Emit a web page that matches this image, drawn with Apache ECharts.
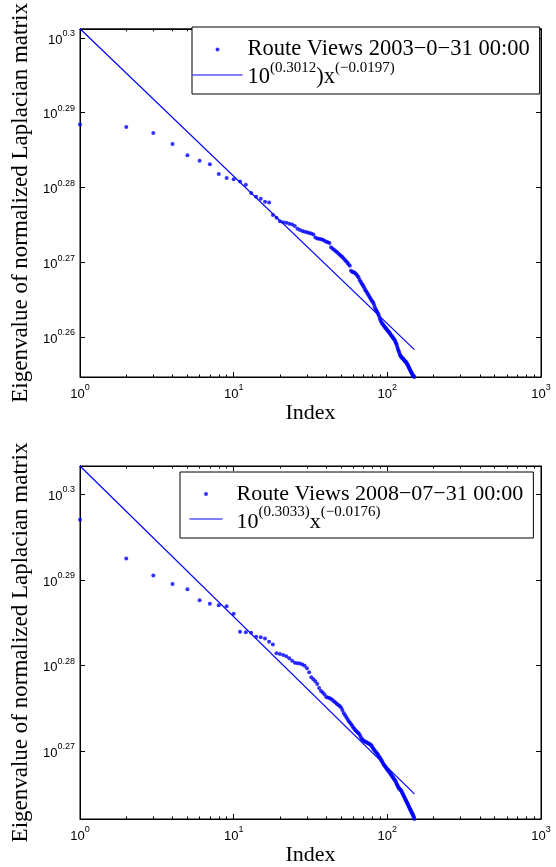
<!DOCTYPE html>
<html>
<head>
<meta charset="utf-8">
<script src="https://cdn.jsdelivr.net/npm/echarts@6/dist/echarts.min.js"></script>
<style>html,body{margin:0;padding:0;background:#fff}#c{width:556px;height:867px}</style>
</head>
<body>
<div id="c"></div>
<script>
// ---------------- data ----------------
const yAxisTitle = 'Eigenvalue of normalized Laplacian matrix';
const xAxisTitle = 'Index';
const topSeriesName = 'Route Views 2003−0−31 00:00';
const bottomSeriesName = 'Route Views 2008−07−31 00:00';
// power-law fits: log10(intercept), exponent
const topFit = [0.3012, -0.0197];
const bottomFit = [0.3033, -0.0176];
const topFitName = 'fit 2003';
const bottomFitName = 'fit 2008';
// legend texts of the fits (rich text: b = base, s = superscript)
const topFitLabel = '{b|10}{s|(0.3012}{b|)x}{s|(−0.0197)}';
const bottomFitLabel = '{b|10}{s|(0.3033)}{b|x}{s|(−0.0176)}';

const xMajorTicks = [1, 10, 100, 1000];
const xMajorTickLabels = ['0', '1', '2', '3'];
const xMinorTicks = [2, 3, 4, 5, 6, 7, 8, 9, 20, 30, 40, 50, 60, 70, 80, 90, 200, 300, 400, 500, 600, 700, 800, 900];
const yTickExponentsTop = [0.26, 0.27, 0.28, 0.29, 0.3];
const yTickLabelsTop = ['0.26', '0.27', '0.28', '0.29', '0.3'];
const yTickExponentsBottom = [0.27, 0.28, 0.29, 0.3];
const yTickLabelsBottom = ['0.27', '0.28', '0.29', '0.3'];

// log10 of the eigenvalue, for index 1, 2, 3, ...
const eigLog10Top = [
  0.28840, 0.28808, 0.28726, 0.28579, 0.28430, 0.28357, 0.28309, 0.28179, 0.28126, 0.28110,
  0.28078, 0.28035, 0.27927, 0.27875, 0.27849, 0.27810, 0.27797, 0.27631, 0.27596, 0.27549,
  0.27536, 0.27527, 0.27514, 0.27505, 0.27484, 0.27449, 0.27432, 0.27419, 0.27409, 0.27400,
  0.27392, 0.27383, 0.27370, 0.27331, 0.27318, 0.27314, 0.27309, 0.27301, 0.27288, 0.27275,
  0.27266, 0.27257, 0.27201, 0.27181, 0.27168, 0.27151, 0.27136, 0.27116, 0.27099, 0.27083,
  0.27070, 0.27051, 0.27031, 0.27012, 0.26992, 0.26973, 0.26953, 0.26888, 0.26875, 0.26868,
  0.26862, 0.26849, 0.26836, 0.26816, 0.26797, 0.26764, 0.26744, 0.26718, 0.26699, 0.26679,
  0.26653, 0.26627, 0.26608, 0.26588, 0.26568, 0.26549, 0.26529, 0.26510, 0.26490, 0.26477,
  0.26458, 0.26432, 0.26399, 0.26373, 0.26353, 0.26334, 0.26314, 0.26288, 0.26256, 0.26229,
  0.26210, 0.26190, 0.26177, 0.26164, 0.26151, 0.26138, 0.26125, 0.26119, 0.26106, 0.26093,
  0.26082, 0.26073, 0.26060, 0.26047, 0.26034, 0.26021, 0.26014, 0.26001, 0.25988, 0.25982,
  0.25969, 0.25956, 0.25936, 0.25917, 0.25897, 0.25871, 0.25845, 0.25825, 0.25806, 0.25780,
  0.25760, 0.25747, 0.25737, 0.25728, 0.25721, 0.25714, 0.25708, 0.25701, 0.25688, 0.25682,
  0.25675, 0.25669, 0.25662, 0.25649, 0.25636, 0.25623, 0.25610, 0.25597, 0.25584, 0.25571,
  0.25558, 0.25545, 0.25532, 0.25519, 0.25506, 0.25493, 0.25486, 0.25480, 0.25473, 0.25467
];
const eigLog10Bottom = [
  0.29702, 0.29249, 0.29051, 0.28951, 0.28889, 0.28761, 0.28722, 0.28703, 0.28691, 0.28603,
  0.28394, 0.28388, 0.28382, 0.28336, 0.28330, 0.28316, 0.28278, 0.28246, 0.28142, 0.28134,
  0.28122, 0.28107, 0.28084, 0.28055, 0.28031, 0.28026, 0.28022, 0.28010, 0.27997, 0.27967,
  0.27921, 0.27863, 0.27840, 0.27816, 0.27782, 0.27735, 0.27700, 0.27683, 0.27660, 0.27631,
  0.27625, 0.27619, 0.27607, 0.27596, 0.27578, 0.27567, 0.27549, 0.27538, 0.27526, 0.27509,
  0.27480, 0.27445, 0.27422, 0.27398, 0.27375, 0.27352, 0.27334, 0.27317, 0.27294, 0.27276,
  0.27259, 0.27242, 0.27230, 0.27218, 0.27207, 0.27189, 0.27166, 0.27143, 0.27131, 0.27120,
  0.27114, 0.27108, 0.27102, 0.27096, 0.27091, 0.27085, 0.27079, 0.27073, 0.27062, 0.27044,
  0.27027, 0.27015, 0.27003, 0.26992, 0.26980, 0.26969, 0.26957, 0.26940, 0.26928, 0.26916,
  0.26899, 0.26887, 0.26870, 0.26852, 0.26841, 0.26829, 0.26818, 0.26806, 0.26794, 0.26783,
  0.26777, 0.26765, 0.26754, 0.26742, 0.26731, 0.26719, 0.26713, 0.26701, 0.26690, 0.26678,
  0.26667, 0.26661, 0.26649, 0.26632, 0.26614, 0.26603, 0.26591, 0.26574, 0.26568, 0.26559,
  0.26551, 0.26545, 0.26539, 0.26525, 0.26513, 0.26501, 0.26487, 0.26474, 0.26462, 0.26450,
  0.26438, 0.26426, 0.26414, 0.26402, 0.26389, 0.26377, 0.26365, 0.26353, 0.26341, 0.26329,
  0.26318, 0.26307, 0.26295, 0.26286, 0.26274, 0.26261, 0.26252, 0.26239, 0.26225, 0.26206
];

// ---------------- build ----------------
const BLUE = '#0000ff';
const BLACK = '#000000';
const SERIF = '"Liberation Serif", "Times New Roman", serif';
const SANS = '"Liberation Sans", Arial, Helvetica, sans-serif';

function points(logs) { return logs.map((e, k) => [k + 1, Math.pow(10, e)]); }
function fitPoints(fit, n) {
  return [1, n].map(x => [x, Math.pow(10, fit[0] + fit[1] * Math.log10(x))]);
}
const topPts = points(eigLog10Top), bottomPts = points(eigLog10Bottom);
const topFitPts = fitPoints(topFit, eigLog10Top.length);
const bottomFitPts = fitPoints(bottomFit, eigLog10Bottom.length);
function extentOf(a, b) {
  const ys = a.concat(b).map(p => p[1]);
  return [Math.min.apply(null, ys), Math.max.apply(null, ys)];
}
const topExt = extentOf(topPts, topFitPts);
const bottomExt = extentOf(bottomPts, bottomFitPts);

const tickRich = {
  b: { fontFamily: SANS, fontSize: 13, color: BLACK, lineHeight: 17.5, verticalAlign: 'bottom' },
  s: { fontFamily: SANS, fontSize: 9, color: BLACK, verticalAlign: 'top' }
};

function xAxes(gridIndex) {
  const base = {
    type: 'log', logBase: 10, gridIndex: gridIndex, min: 1, max: 1000,
    splitLine: { show: false }, minorTick: { show: false }, minorSplitLine: { show: false },
    axisLine: { show: true, lineStyle: { color: BLACK, width: 1 } },
    axisTick: { show: true, inside: true, length: 5, lineStyle: { color: BLACK, width: 1 } },
    axisLabel: { show: false }
  };
  const minorTick = { show: true, inside: true, length: 2.5, customValues: xMinorTicks, lineStyle: { color: BLACK, width: 1 } };
  return [
    Object.assign({}, base, {
      position: 'bottom',
      axisLabel: {
        show: true, margin: 6,
        formatter: v => {
          const k = xMajorTicks.indexOf(Math.round(v));
          return '{b|10}{s|' + xMajorTickLabels[k] + '}';
        },
        rich: tickRich
      },
      name: xAxisTitle, nameLocation: 'middle', nameGap: 25,
      nameTextStyle: { fontFamily: SERIF, fontSize: 22, color: BLACK }
    }),
    Object.assign({}, base, { position: 'bottom', axisLine: { show: false }, axisTick: minorTick }),
    Object.assign({}, base, { position: 'top' }),
    Object.assign({}, base, { position: 'top', axisLine: { show: false }, axisTick: minorTick })
  ];
}

function yAxes(gridIndex, exps, labels, ext) {
  const vals = exps.map(e => Math.pow(10, e));
  const base = {
    type: 'log', logBase: 10, gridIndex: gridIndex, min: ext[0], max: ext[1],
    splitLine: { show: false }, minorTick: { show: false }, minorSplitLine: { show: false },
    axisLine: { show: true, lineStyle: { color: BLACK, width: 1 } },
    axisTick: { show: true, inside: true, length: 5, customValues: vals, lineStyle: { color: BLACK, width: 1 } },
    axisLabel: { show: false }
  };
  return [
    Object.assign({}, base, {
      position: 'left',
      axisLabel: {
        show: true, margin: 5, customValues: vals,
        formatter: v => {
          const e = Math.log10(v);
          let best = 0;
          exps.forEach((x, k) => { if (Math.abs(x - e) < Math.abs(exps[best] - e)) best = k; });
          return '{b|10}{s|' + labels[best] + '}';
        },
        rich: tickRich
      },
      name: yAxisTitle, nameLocation: 'middle', nameGap: 45,
      nameTextStyle: { fontFamily: SERIF, fontSize: 23, color: BLACK }
    }),
    Object.assign({}, base, { position: 'right' })
  ];
}

const legendText = {};
legendText[topSeriesName] = topSeriesName;
legendText[bottomSeriesName] = bottomSeriesName;
legendText[topFitName] = topFitLabel;
legendText[bottomFitName] = bottomFitLabel;

function legend(names, left, top, itemWidth, padLeft, spacer, fontSize) {
  const rich = {
    p: { width: spacer },
    b: { fontFamily: SERIF, fontSize: fontSize, color: BLACK, lineHeight: 28, verticalAlign: 'bottom' },
    s: { fontFamily: SERIF, fontSize: 15, color: BLACK, verticalAlign: 'top' }
  };
  return {
    show: true, orient: 'vertical', left: left, top: top,
    itemWidth: itemWidth, itemHeight: 4, itemGap: 0,
    padding: [11, 10, 5, padLeft],
    backgroundColor: '#ffffff', borderColor: BLACK, borderWidth: 1, borderRadius: 0,
    selectedMode: false,
    data: [
      { name: names[0] },
      { name: names[1], itemStyle: { color: 'rgba(0,0,0,0)', borderWidth: 0 }, lineStyle: { color: BLUE, width: 1 } }
    ],
    formatter: n => (spacer ? '{p| }' : '') + legendText[n],
    textStyle: { fontFamily: SERIF, fontSize: fontSize, color: BLACK, lineHeight: 20, rich: rich }
  };
}

const chart = echarts.init(document.getElementById('c'), null, { renderer: 'canvas' });
chart.setOption({
  animation: false,
  backgroundColor: '#ffffff',
  grid: [
    { left: 80, top: 21, width: 461, height: 356, show: true, borderColor: BLACK, borderWidth: 1, backgroundColor: 'transparent' },
    { left: 80, top: 466, width: 461, height: 356, show: true, borderColor: BLACK, borderWidth: 1, backgroundColor: 'transparent' }
  ],
  xAxis: xAxes(0).concat(xAxes(1)),
  yAxis: yAxes(0, yTickExponentsTop, yTickLabelsTop, topExt).concat(yAxes(1, yTickExponentsBottom, yTickLabelsBottom, bottomExt)),
  legend: [
    legend([topSeriesName, topFitName], 192, 27, 50, 0, 0, 22.5),
    legend([bottomSeriesName, bottomFitName], 180, 472, 33, 9, 9, 22)
  ],
  series: [
    { name: topSeriesName, type: 'scatter', xAxisIndex: 0, yAxisIndex: 0, data: topPts,
      symbol: 'circle', symbolSize: 4, itemStyle: { color: BLUE }, silent: true, z: 2 },
    { name: topFitName, type: 'line', xAxisIndex: 0, yAxisIndex: 0, data: topFitPts,
      symbol: 'none', lineStyle: { color: BLUE, width: 1.2 }, itemStyle: { color: BLUE }, silent: true, z: 3 },
    { name: bottomSeriesName, type: 'scatter', xAxisIndex: 4, yAxisIndex: 2, data: bottomPts,
      symbol: 'circle', symbolSize: 4, itemStyle: { color: BLUE }, silent: true, z: 2 },
    { name: bottomFitName, type: 'line', xAxisIndex: 4, yAxisIndex: 2, data: bottomFitPts,
      symbol: 'none', lineStyle: { color: BLUE, width: 1.2 }, itemStyle: { color: BLUE }, silent: true, z: 3 }
  ]
});
</script>
</body>
</html>
